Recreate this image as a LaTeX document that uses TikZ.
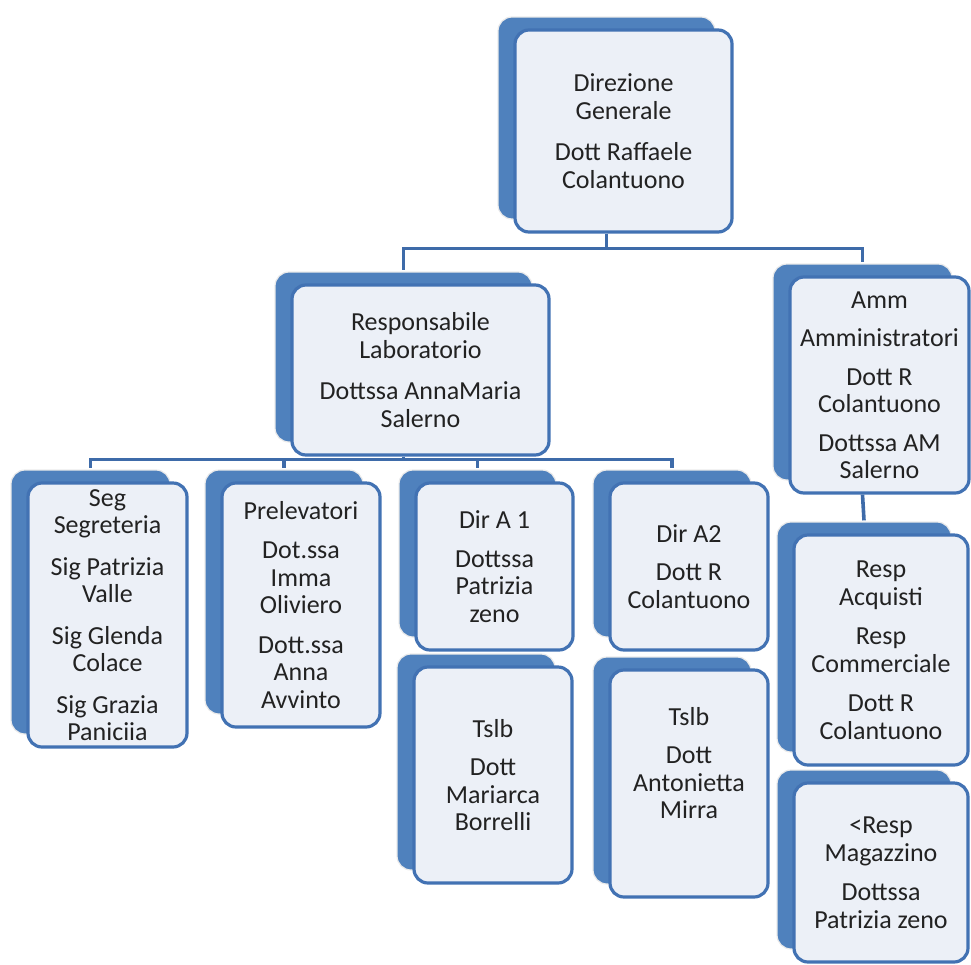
\documentclass[tikz,border=0pt]{standalone}
\usepackage{fontspec}
\setmainfont{Carlito}
\usetikzlibrary{shadows}
\definecolor{boxblue}{HTML}{4F81BD}
\definecolor{edgeblue}{HTML}{4272B3}
\definecolor{lineblue}{HTML}{3E6BA9}
\definecolor{frontfill}{HTML}{ECF0F7}
\definecolor{textgray}{HTML}{222222}
\tikzset{
    orgbox/.style={draw=edgeblue, line width=3.2pt, fill=frontfill, rounded corners=14pt,
        inner sep=0pt, align=center, text=textgray, font=\fontsize{26}{27.5}\selectfont,
        copy shadow={shadow xshift=-17pt, shadow yshift=13pt, fill=boxblue, draw=black!8,
            line width=1.2pt, opacity=1}},
    conn/.style={draw=lineblue, line width=3.6pt}
}
\begin{document}
\begin{tikzpicture}[x=1pt, y=-1pt]
        \useasboundingbox (0,0) rectangle (971,964);
        % top
        \node[orgbox, minimum width=217, minimum height=202] (gen) at (623.5,131)
            {Direzione\\Generale\\[14pt]Dott Raffaele\\Colantuono};
        % second level
        \node[orgbox, minimum width=257, minimum height=170] (resp) at (420.5,370)
            {Responsabile\\Laboratorio\\[14pt]Dottssa AnnaMaria\\Salerno};
        \node[orgbox, minimum width=179, minimum height=216] (amm) at (879.5,385)
            {Amm\\[11pt]Amministratori\\[11pt]Dott R\\Colantuono\\[11pt]Dottssa AM\\Salerno};
        % third level
        \node[orgbox, minimum width=159, minimum height=264] (seg) at (107.5,615)
            {Seg\\Segreteria\\[14pt]Sig Patrizia\\Valle\\[14pt]Sig Glenda\\Colace\\[14pt]Sig Grazia\\Paniciia};
        \node[orgbox, minimum width=158, minimum height=244] (prel) at (301,605)
            {Prelevatori\\[12pt]Dot.ssa\\Imma\\Oliviero\\[12pt]Dott.ssa\\Anna\\Avvinto};
        \node[orgbox, minimum width=157, minimum height=167] (dira) at (494.5,566.5)
            {Dir A 1\\[11pt]Dottssa\\Patrizia\\zeno};
        \node[orgbox, minimum width=158, minimum height=167] (dirb) at (689,566.5)
            {Dir A2\\[11pt]Dott R\\Colantuono};
        \node[orgbox, minimum width=158, minimum height=216] (tslba) at (493,775)
            {Tslb\\[11pt]Dott\\Mariarca\\Borrelli};
        \node[orgbox, minimum width=158, minimum height=227] (tslbb) at (689,783.5)
            {Tslb\\[11pt]Dott\\Antonietta\\Mirra\\[14pt]};
        \node[orgbox, minimum width=174, minimum height=230] (acq) at (881,650)
            {Resp\\Acquisti\\[12pt]Resp\\Commerciale\\[12pt]Dott R\\Colantuono};
        \node[orgbox, minimum width=174, minimum height=179] (mag) at (881,872.5)
            {<Resp\\Magazzino\\[12pt]Dottssa\\Patrizia zeno};
        % connectors
        \draw[conn] ([xshift=-17pt]gen.south) -- ++(0,15) -| ([xshift=-17pt,yshift=13pt]resp.north);
        \draw[conn] ([xshift=-17pt]gen.south) ++(0,15) -| ([xshift=-17pt,yshift=13pt]amm.north);
        \draw[conn] ([xshift=-17pt]resp.south) -- ++(0,3) -| ([xshift=-17pt,yshift=13pt]seg.north);
        \foreach \child in {prel,dira,dirb}
            {
                \draw[conn] ([xshift=-17pt]resp.south) ++(0,3) -| ([xshift=-17pt,yshift=13pt]\child.north);
            }
        \draw[conn] ([xshift=-17pt]amm.south) -- ([xshift=-17pt,yshift=13pt]acq.north);
    \end{tikzpicture}
\end{document}
